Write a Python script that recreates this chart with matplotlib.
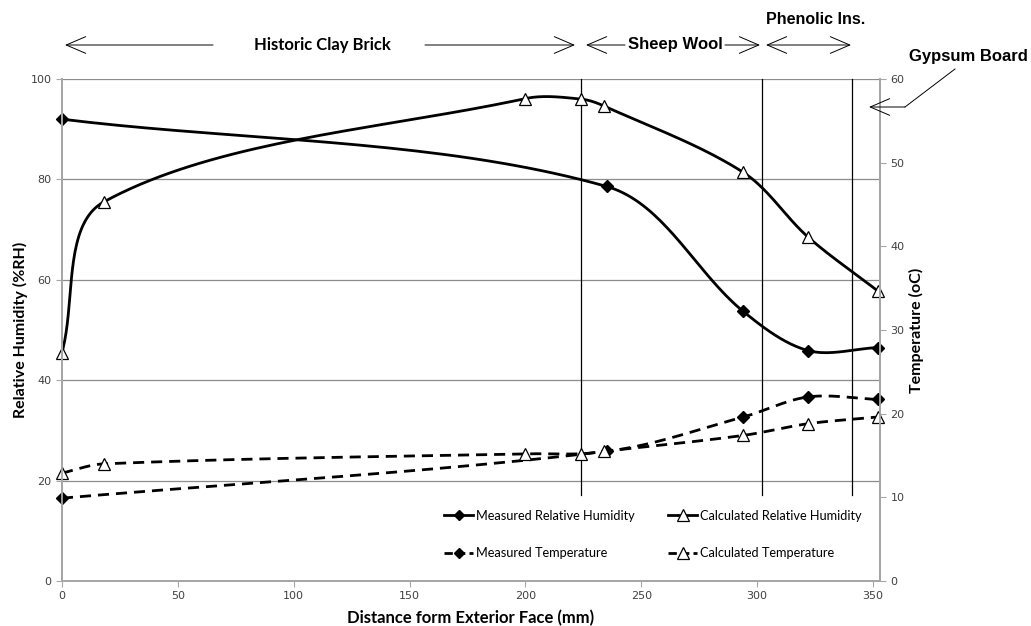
import numpy as np
import matplotlib.pyplot as plt
import matplotlib.lines as mlines
from matplotlib.patches import FancyArrowPatch

# ===============================
# Data
# ===============================
x_meas = [0, 235, 294, 322, 352]
rh_meas = [92.0, 78.6, 53.7, 45.9, 46.5]
t_meas = [9.9, 15.5, 19.6, 22.0, 21.7]

x_calc = [0, 18, 200, 224, 234, 294, 322, 352]
rh_calc = [45.5, 75.5, 96.1, 96.0, 94.6, 81.4, 68.5, 57.8]
t_calc = [12.9, 14.0, 15.2, 15.2, 15.5, 17.4, 18.8, 19.6]

layer_bounds = [224, 302, 341]
legend_labels = ["Measured Relative Humidity", "Measured Temperature",
                 "Calculated Relative Humidity", "Calculated Temperature"]

XMAX = 353
W, H = 818.0, 502.0   # plot area in pixels, used to smooth like a spreadsheet


def smooth(xs, ys, ymax, n=40):
    # chord-length weighted Bezier smoothing done in screen space
    p = np.column_stack([np.array(xs) / XMAX * W, np.array(ys) / ymax * H])
    m = len(p)
    d = np.linalg.norm(np.diff(p, axis=0), axis=1)
    tang = np.zeros_like(p)
    for i in range(m):
        a = p[i - 1] if i > 0 else p[i]
        b = p[i + 1] if i < m - 1 else p[i]
        da = d[i - 1] if i > 0 else 0
        db = d[i] if i < m - 1 else 0
        tang[i] = (b - a) / (da + db)
    pts = []
    s = np.linspace(0, 1, n)[:, None]
    for i in range(m - 1):
        p1, p2 = p[i], p[i + 1]
        b1 = p1 + tang[i] * d[i] / 3
        b2 = p2 - tang[i + 1] * d[i] / 3
        seg = ((1 - s) ** 3 * p1 + 3 * (1 - s) ** 2 * s * b1
               + 3 * (1 - s) * s ** 2 * b2 + s ** 3 * p2)
        pts.append(seg if i == 0 else seg[1:])
    pts = np.vstack(pts)
    return pts[:, 0] / W * XMAX, pts[:, 1] / H * ymax


# ===============================
# Figure
# ===============================
fig = plt.figure(figsize=(10.31, 6.26), dpi=100)
ax = fig.add_axes([0.0601, 0.0719, 0.7934, 0.8019])
ax2 = ax.twinx()

grey = "#a6a6a6"
ax.set_xlim(0, XMAX)
ax.set_ylim(0, 100)
ax2.set_ylim(0, 60)
ax.set_yticks(range(0, 101, 20))
ax2.set_yticks(range(0, 61, 10))
ax.set_xticks(range(0, 351, 50))
ax.yaxis.grid(True, color="#8c8c8c", lw=0.9)
ax.set_axisbelow(True)

for a in (ax, ax2):
    a.spines["top"].set_visible(False)
    for s in ("left", "right", "bottom"):
        a.spines[s].set_color(grey)
        a.spines[s].set_linewidth(1.3)
    a.tick_params(colors=grey, labelcolor="#404040", labelsize=8, length=4)

ax.set_xlabel("Distance form Exterior Face (mm)", fontsize=12, fontweight="bold",
              family="Lato", labelpad=6)
ax.set_ylabel("Relative Humidity (%RH)", fontsize=11.5, fontweight="bold",
              family="Lato", labelpad=2)
ax2.set_ylabel("Temperature (oC)", fontsize=11.5, fontweight="bold",
               family="Lato", labelpad=3)

for xb in layer_bounds:
    ax.axvline(xb, ymin=0.172, ymax=1, color="black", lw=0.9)

# ===============================
# Series
# ===============================
mk_d = dict(marker="D", markersize=6, markerfacecolor="black", markeredgecolor="black")
mk_t = dict(marker="^", markersize=9, markerfacecolor="white", markeredgecolor="black",
            markeredgewidth=0.9)
dash = (0, (4, 2.5))

sx, sy = smooth(x_meas, rh_meas, 100)
ax.plot(sx, sy, color="black", lw=2)
ax.plot(x_meas, rh_meas, ls="none", **mk_d)

sx, sy = smooth(x_calc, rh_calc, 100)
ax.plot(sx, sy, color="black", lw=2)
ax.plot(x_calc, rh_calc, ls="none", **mk_t)

sx, sy = smooth(x_meas, t_meas, 60)
ax2.plot(sx, sy, color="black", lw=2, ls=dash)
ax2.plot(x_meas, t_meas, ls="none", **mk_d)

sx, sy = smooth(x_calc, t_calc, 60)
ax2.plot(sx, sy, color="black", lw=2, ls=dash)
ax2.plot(x_calc, t_calc, ls="none", **mk_t)

for a in (ax, ax2):
    for ln in a.lines:
        ln.set_clip_on(False)

# legend proxies (column-major order gives the two rows of the original)
p1 = mlines.Line2D([], [], color="black", lw=2, marker="D", markersize=5)
p2 = mlines.Line2D([], [], color="black", lw=2, marker="^", markersize=8,
                   markerfacecolor="white", markeredgewidth=0.9)
p3 = mlines.Line2D([], [], color="black", lw=2, ls=(0, (3, 1.5)), marker="D", markersize=5)
p4 = mlines.Line2D([], [], color="black", lw=2, ls=(0, (3, 1.5)), marker="^", markersize=8,
                   markerfacecolor="white", markeredgewidth=0.9)
ax2.legend([p1, p3, p2, p4], legend_labels, ncol=2, frameon=False,
           loc="upper left", bbox_to_anchor=(0.453, 0.165),
           handlelength=2.3, handletextpad=0.2, columnspacing=2.6,
           labelspacing=2.0, prop={"family": "Lato", "size": 9.2})

# ===============================
# Layer annotations (figure pixels)
# ===============================
def fx(px):
    return px / 1031.0


def fy(py):
    return 1 - py / 626.0


def arrow(x0, y0, x1, y1, style="->"):
    fig.add_artist(FancyArrowPatch(
        (fx(x0), fy(y0)), (fx(x1), fy(y1)), transform=fig.transFigure,
        arrowstyle=style + ",head_length=14,head_width=6", color="black", lw=0.7,
        shrinkA=0, shrinkB=0))


ay = 45
arrow(213, ay, 65, ay)
arrow(425, ay, 575, ay)
fig.text(fx(322), fy(ay), "Historic Clay Brick", ha="center", va="center",
         fontsize=12, fontweight="bold", family="Lato")
arrow(625, ay, 586, ay)
arrow(725, ay, 760, ay)
fig.text(fx(675), fy(ay), "Sheep Wool", ha="center", va="center",
         fontsize=12, fontweight="bold", family="Liberation Sans")
arrow(766, ay, 851, ay, style="<->")
fig.text(fx(816), fy(19), "Phenolic Ins.", ha="center", va="center",
         fontsize=11.5, fontweight="bold", family="Liberation Sans")
fig.add_artist(mlines.Line2D([fx(955), fx(905)], [fy(69), fy(107)],
                             transform=fig.transFigure, color="black", lw=0.7))
arrow(905, 107, 869, 107)
fig.text(fx(968), fy(57), "Gypsum Board", ha="center", va="center",
         fontsize=12, fontweight="bold", family="Liberation Sans")

fig.savefig("out.png", dpi=100)
